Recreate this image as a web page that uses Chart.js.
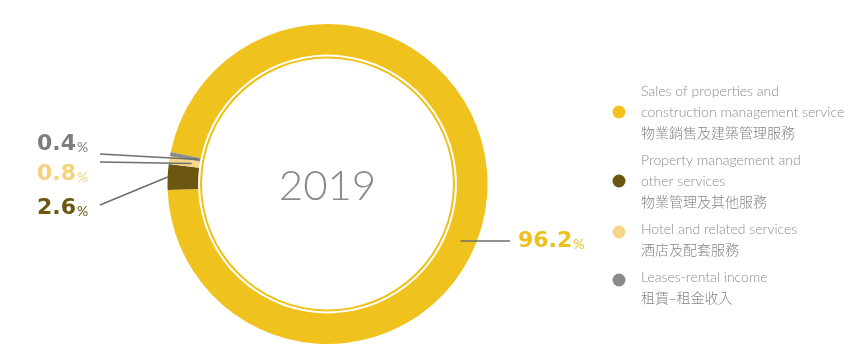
<!DOCTYPE html>
<html>
<head>
<meta charset="utf-8">
<script src="https://cdn.jsdelivr.net/npm/chart.js@4"></script>
<style>
  html, body { margin: 0; padding: 0; background: #fff; }
  #wrap { position: relative; width: 863px; height: 362px; }
</style>
</head>
<body>
<div id="wrap"><canvas id="chart" width="863" height="362"></canvas></div>
<script>
// data
const yearLabel = '2019';
const categoriesEn = [
	['Sales of properties and', 'construction management service'],
	['Property management and', 'other services'],
	['Hotel and related services'],
	['Leases-rental income']
];
const categoriesZh = ['物業銷售及建築管理服務', '物業管理及其他服務', '酒店及配套服務', '租賃–租金收入'];
const shares = [96.2, 2.6, 0.8, 0.4];
const colors = ['#F0C21E', '#6B5710', '#F6D789', '#8A8A8A'];
const labelColors = ['#EEC01C', '#6B5710', '#F4D27C', '#7D7D7D'];

// where each callout label sits, where its line starts, and which part of the slice it touches
const callouts = [
	{ x: 518, y: 241, lx: null, ly: 241, edge: 'level' },
	{ x: 37, y: 208, lx: 100, ly: 205, edge: 'outer' },
	{ x: 37, y: 174, lx: 100, ly: 162, edge: 'middle' },
	{ x: 37, y: 144, lx: 100, ly: 154, edge: 'inner' }
];

const calloutPlugin = {
	id: 'callouts',
	afterDraw(chart) {
		const ctx = chart.ctx;
		const arcs = chart.getDatasetMeta(0).data;

		// year in the middle
		const a0 = arcs[0];
		ctx.save();
		ctx.fillStyle = '#8A8A8A';
		ctx.font = '300 42px Lato, "Open Sans", sans-serif';
		ctx.textAlign = 'center';
		ctx.textBaseline = 'middle';
		ctx.fillText(yearLabel, a0.x, a0.y + 2);
		ctx.restore();

		// leader lines and percentages
		arcs.forEach(function(arc, i) {
			const c = callouts[i];
			const p = arc.getProps(['x', 'y', 'startAngle', 'endAngle', 'innerRadius', 'outerRadius']);
			const mid = (p.startAngle + p.endAngle) / 2;
			let ex, ey, sx, sy;
			if (c.edge === 'level') {
				const rm = (p.innerRadius + p.outerRadius) / 2;
				const dy = c.ly - p.y;
				sx = p.x + Math.sqrt(rm * rm - dy * dy);
				sy = c.ly;
				ex = c.x - 8;
				ey = c.ly;
			} else {
				let r = p.innerRadius + 2;
				if (c.edge === 'outer') r = p.outerRadius;
				if (c.edge === 'middle') r = p.innerRadius + 8;
				sx = c.lx;
				sy = c.ly;
				ex = p.x + Math.cos(mid) * r;
				ey = p.y + Math.sin(mid) * r;
			}
			ctx.save();
			ctx.strokeStyle = '#6E6E6E';
			ctx.lineWidth = 1.5;
			ctx.beginPath();
			ctx.moveTo(sx, sy);
			ctx.lineTo(ex, ey);
			ctx.stroke();

			ctx.font = 'bold 22px "DejaVu Sans", sans-serif';
			const numW = ctx.measureText(shares[i].toFixed(1)).width;
			ctx.fillStyle = labelColors[i];
			ctx.textBaseline = 'middle';
			ctx.textAlign = 'left';
			ctx.fillText(shares[i].toFixed(1), c.x, c.y);
			ctx.font = '14px Lato, "Open Sans", sans-serif';
			ctx.fillText('%', c.x + numW + 1, c.y + 3);
			ctx.restore();
		});

		// legend on the right
		let y = 91;
		ctx.save();
		categoriesEn.forEach(function(lines, i) {
			ctx.textBaseline = 'middle';
			ctx.textAlign = 'left';
			ctx.font = '300 14px Lato, "Open Sans", sans-serif';
			ctx.fillStyle = '#8C8C8C';
			lines.forEach(function(t, j) {
				ctx.fillText(t, 641, y + j * 21);
			});
			const dotY = y + (lines.length - 1) * 21 + (lines.length > 1 ? 0 : 3);
			ctx.fillStyle = colors[i];
			ctx.beginPath();
			ctx.arc(619, dotY, 6.5, 0, Math.PI * 2);
			ctx.fill();
			ctx.font = '300 14px "Noto Sans CJK TC", sans-serif';
			ctx.fillStyle = '#858585';
			ctx.fillText(categoriesZh[i], 641, y + lines.length * 21);
			y += (lines.length + 1) * 21 + 6;
		});
		ctx.restore();
	}
};

new Chart(document.getElementById('chart'), {
	type: 'doughnut',
	data: {
		labels: categoriesEn.map(function(l) { return l.join(' '); }),
		datasets: [
			{
				data: shares,
				backgroundColor: colors,
				borderWidth: 0,
				weight: 30.5
			},
			{
				data: [100],
				backgroundColor: '#FFFFFF',
				borderWidth: 0,
				weight: 1.8
			},
			{
				data: [100],
				backgroundColor: colors[0],
				borderWidth: 0,
				weight: 2.2
			}
		]
	},
	options: {
		responsive: false,
		animation: false,
		rotation: -78.5,
		cutout: '78.4%',
		layout: {
			padding: { top: 24, bottom: 18, left: 167.5, right: 375.5 }
		},
		plugins: {
			legend: { display: false },
			tooltip: { enabled: false }
		}
	},
	plugins: [calloutPlugin]
});
</script>
</body>
</html>
